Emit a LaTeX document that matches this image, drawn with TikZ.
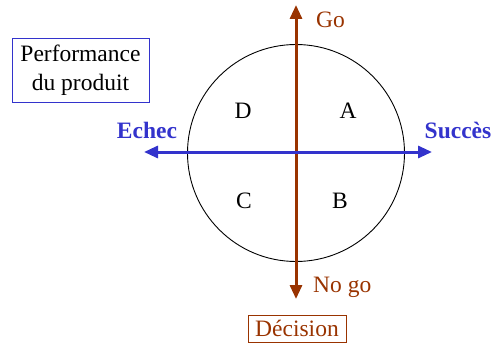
\documentclass[tikz,border=0pt]{standalone}
\usepackage{fontspec}
\setmainfont{Liberation Serif}
\usetikzlibrary{arrows.meta}
\definecolor{brn}{HTML}{993300}
\definecolor{blu}{HTML}{3333CC}
\begin{document}
\begin{tikzpicture}[x=1pt,y=-1pt,
  lbl/.style={font=\fontsize{23.5}{28}\selectfont, inner sep=0pt},
  tip/.style={{Triangle[length=14pt,width=12pt]}-{Triangle[length=14pt,width=12pt]}},
  axisv/.style={draw=brn, line width=3pt, tip},
  axish/.style={draw=blu, line width=3pt, tip}]
\useasboundingbox (0,0) rectangle (493,345);
\node[draw, circle, minimum size=217pt, inner sep=0pt, line width=0.9pt] (c) at (296,153) {};
\coordinate (vb) at (296,299);
\coordinate (vt) at (296,5);
\coordinate (hl) at (144,152);
\coordinate (hr) at (432,152);
\draw[axisv] (vb) -- (vt);
\draw[axish] (hl) -- (hr);
\node[lbl, text=brn, anchor=west] (go) at (316,20) {Go};
\node[lbl, text=brn, anchor=west] (nogo) at (313,287) {No go};
\node[lbl, text=blu, font=\fontsize{23.5}{28}\selectfont\bfseries] (echec) at (147,130) {Echec};
\node[lbl, text=blu, font=\fontsize{23.5}{28}\selectfont\bfseries] (succes) at (458,130) {Succès};
\node[lbl] (d) at (243,111) {D};
\node[lbl] (a) at (348,111) {A};
\node[lbl] (cc) at (244,201) {C};
\node[lbl] (b) at (340,201) {B};
\node[draw=blu, line width=0.9pt, minimum width=137pt, minimum height=64pt, align=center, inner sep=0pt, font=\fontsize{23.5}{29}\selectfont] (perf) at (80.5,70) {Performance\\du produit};
\node[draw=brn, line width=0.9pt, minimum width=98pt, minimum height=27pt, inner sep=0pt, text=brn, font=\fontsize{23.5}{28}\selectfont] (dec) at (297,328.5) {Décision};
\end{tikzpicture}
\end{document}
